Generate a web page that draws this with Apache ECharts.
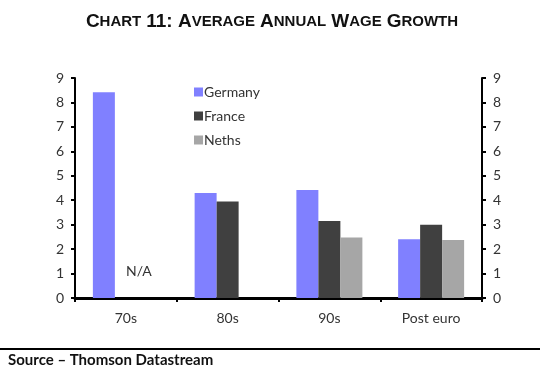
<!DOCTYPE html>
<html>
<head>
<meta charset="utf-8">
<script src="https://cdn.jsdelivr.net/npm/echarts@6/dist/echarts.min.js"></script>
<style>
  html, body { margin: 0; padding: 0; background: #fff; }
  #chart { width: 544px; height: 375px; }
</style>
</head>
<body>
<div id="chart"></div>
<script>
var categories = ['70s', '80s', '90s', 'Post euro'];
var germany = [8.42, 4.3, 4.42, 2.4];
var france = [null, 3.95, 3.15, 3.0];
var neths = [null, null, 2.47, 2.37];
var yTicks = [0, 1, 2, 3, 4, 5, 6, 7, 8, 9];

var chart = echarts.init(document.getElementById('chart'));
var font = 'Lato, "Open Sans", sans-serif';

var axisBase = {
    type: 'value',
    min: yTicks[0],
    max: yTicks[yTicks.length - 1],
    interval: 1,
    splitLine: { show: false },
    axisLine: { show: true, lineStyle: { color: '#000', width: 2 } },
    axisTick: { show: true, length: 4, lineStyle: { color: '#000', width: 2 } },
    axisLabel: { color: '#333', fontSize: 14, fontFamily: font, margin: 11 }
};

var option = {
    backgroundColor: '#fff',
    animation: false,
    title: {
        text: '{b|C}{s|HART} {b|11: A}{s|VERAGE} {b|A}{s|NNUAL} {b|W}{s|AGE} {b|G}{s|ROWTH}',
        left: 'center',
        top: 7,
        textStyle: {
            rich: {
                b: { fontSize: 19, fontWeight: 'bold', color: '#111', fontFamily: '"Liberation Sans", sans-serif' },
                s: { fontSize: 15, fontWeight: 'bold', color: '#111', fontFamily: '"Liberation Sans", sans-serif' }
            }
        }
    },
    legend: {
        orient: 'vertical',
        left: 189,
        top: 80,
        itemWidth: 9,
        itemHeight: 9,
        itemGap: 10,
        icon: 'rect',
        textStyle: { fontSize: 14, color: '#333', fontFamily: font, padding: [0, 0, 0, -4] },
        data: ['Germany', 'France', 'Neths']
    },
    grid: { left: 75, right: 62, top: 78, bottom: 77 },
    xAxis: {
        type: 'category',
        data: categories,
        axisLine: { lineStyle: { color: '#000', width: 3 } },
        axisTick: { show: true, length: 4, lineStyle: { color: '#000', width: 2 } },
        axisLabel: { color: '#333', fontSize: 14, fontFamily: font, margin: 13 }
    },
    yAxis: [
        Object.assign({}, axisBase, { position: 'left' }),
        Object.assign({}, axisBase, { position: 'right' })
    ],
    series: [
        { name: 'Germany', type: 'bar', data: germany, barWidth: 22, barGap: '0%', itemStyle: { color: '#8080ff' } },
        { name: 'France', type: 'bar', data: france, barWidth: 22, barGap: '0%', itemStyle: { color: '#404040' } },
        { name: 'Neths', type: 'bar', data: neths, barWidth: 22, barGap: '0%', itemStyle: { color: '#a6a6a6' } }
    ],
    graphic: [
        {
            type: 'text', left: 126, top: 264,
            style: { text: 'N/A', fontSize: 14, fill: '#333', fontFamily: font }
        },
        {
            type: 'line', shape: { x1: 0, y1: 349, x2: 540, y2: 349 },
            style: { stroke: '#000', lineWidth: 2 }
        },
        {
            type: 'text', left: 8, top: 353,
            style: { text: 'Source \u2013 Thomson Datastream', fontSize: 15, fontWeight: 'bold', fill: '#111', fontFamily: font }
        }
    ]
};
chart.setOption(option);
</script>
</body>
</html>
